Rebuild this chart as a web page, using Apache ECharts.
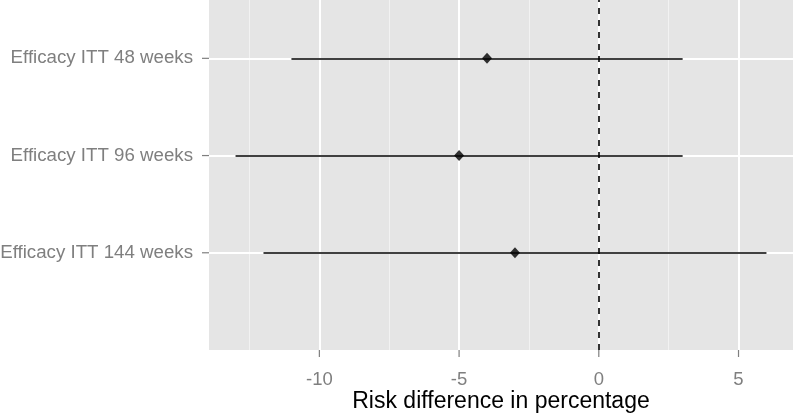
<!DOCTYPE html>
<html>
<head>
<meta charset="utf-8">
<script src="https://cdn.jsdelivr.net/npm/echarts@6/dist/echarts.min.js"></script>
<style>
html,body{margin:0;padding:0;background:#fff;}
#chart{width:793px;height:414px;}
</style>
</head>
<body>
<div id="chart"></div>
<script>
// Data
const categories = ['Efficacy ITT 48 weeks', 'Efficacy ITT 96 weeks', 'Efficacy ITT 144 weeks'];
const catPositions = [3, 2, 1];
const estimates = [-4, -5, -3];
const lower = [-11, -13, -12];
const upper = [3, 3, 6];
const xTicks = [-10, -5, 0, 5];
const xMinorGrid = [-12.5, -7.5, -2.5, 2.5];
const refLine = 0;
const xMin = -13.95, xMax = 6.95, yMin = 0, yMax = 3.6;

const chart = echarts.init(document.getElementById('chart'));

const labelFor = {};
catPositions.forEach((p, i) => { labelFor[p] = categories[i]; });

const mlBase = {silent: true, symbol: 'none', label: {show: false}, animation: false};
const TICK_LEN = 7;
const tickStyle = {stroke: '#7F7F7F', lineWidth: 1.2};

// tick items: [x, y, direction]  direction 0 = x-axis tick (down), 1 = y-axis tick (left)
const tickData = [
  ...xTicks.map(v => [v, 1, 0]),
  ...catPositions.map(v => [xMin, v, 1])
];

const series = [
  // gridlines
  {
    type: 'line', data: [], silent: true, z: 1,
    markLine: Object.assign({}, mlBase, {
      data: [
        ...xMinorGrid.map(v => ({xAxis: v, lineStyle: {color: '#F2F2F2', width: 1, type: 'solid'}})),
        ...xTicks.map(v => ({xAxis: v, lineStyle: {color: '#FFFFFF', width: 2, type: 'solid'}})),
        ...catPositions.map(v => ({yAxis: v, lineStyle: {color: '#FFFFFF', width: 2, type: 'solid'}}))
      ]
    })
  },
  // axis tick marks
  {
    type: 'custom', silent: true, clip: false, z: 6,
    encode: {x: 0, y: 1},
    data: tickData,
    renderItem: (params, api) => {
      const p = api.coord([api.value(0), api.value(1)]);
      const dir = api.value(2);
      const cs = params.coordSys;
      let shape;
      if (dir === 0) {
        const yb = cs.y + cs.height;
        shape = {x1: p[0], y1: yb, x2: p[0], y2: yb + TICK_LEN};
      } else {
        shape = {x1: cs.x, y1: p[1], x2: cs.x - TICK_LEN, y2: p[1]};
      }
      return {type: 'line', shape: shape, style: tickStyle};
    }
  },
  // intervals
  {
    type: 'line', data: [], silent: true, z: 2,
    markLine: Object.assign({}, mlBase, {
      lineStyle: {color: '#000000', width: 1.6, type: 'solid'},
      data: categories.map((c, i) => [
        {coord: [lower[i], catPositions[i]]},
        {coord: [upper[i], catPositions[i]]}
      ])
    })
  },
  // reference dashed line
  {
    type: 'line', data: [], silent: true, z: 3,
    markLine: Object.assign({}, mlBase, {
      data: [{xAxis: refLine, lineStyle: {color: '#000000', width: 1.6, type: [6, 6]}}]
    })
  },
  // points
  {
    type: 'scatter', z: 5, silent: true, animation: false,
    symbol: 'diamond', symbolSize: [10, 11],
    itemStyle: {color: '#000000'},
    data: estimates.map((e, i) => [e, catPositions[i]])
  }
];

const axisFont = 'Liberation Sans';

chart.setOption({
  animation: false,
  backgroundColor: '#FFFFFF',
  grid: {left: 209, right: 0, top: 0, bottom: 64, backgroundColor: '#E5E5E5', show: true, borderWidth: 0,
    outerBoundsMode: 'none', containLabel: false, z: -1},
  xAxis: {
    type: 'value', min: xMin, max: xMax, z: 10,
    name: 'Risk difference in percentage', nameLocation: 'middle', nameGap: 40, nameMoveOverlap: false,
    nameTextStyle: {color: '#000000', fontSize: 23, fontFamily: axisFont},
    axisLine: {show: false},
    axisTick: {show: false},
    axisLabel: {customValues: xTicks, color: '#7F7F7F', fontSize: 18.5, fontFamily: axisFont, margin: 20,
      formatter: v => String(v)},
    splitLine: {show: false}
  },
  yAxis: {
    type: 'value', min: yMin, max: yMax, z: 10,
    axisLine: {show: false},
    axisTick: {show: false},
    axisLabel: {customValues: catPositions, color: '#7F7F7F', fontSize: 18.7, fontFamily: axisFont, margin: 16,
      formatter: v => labelFor[v] || ''},
    splitLine: {show: false}
  },
  series: series
});
</script>
</body>
</html>
